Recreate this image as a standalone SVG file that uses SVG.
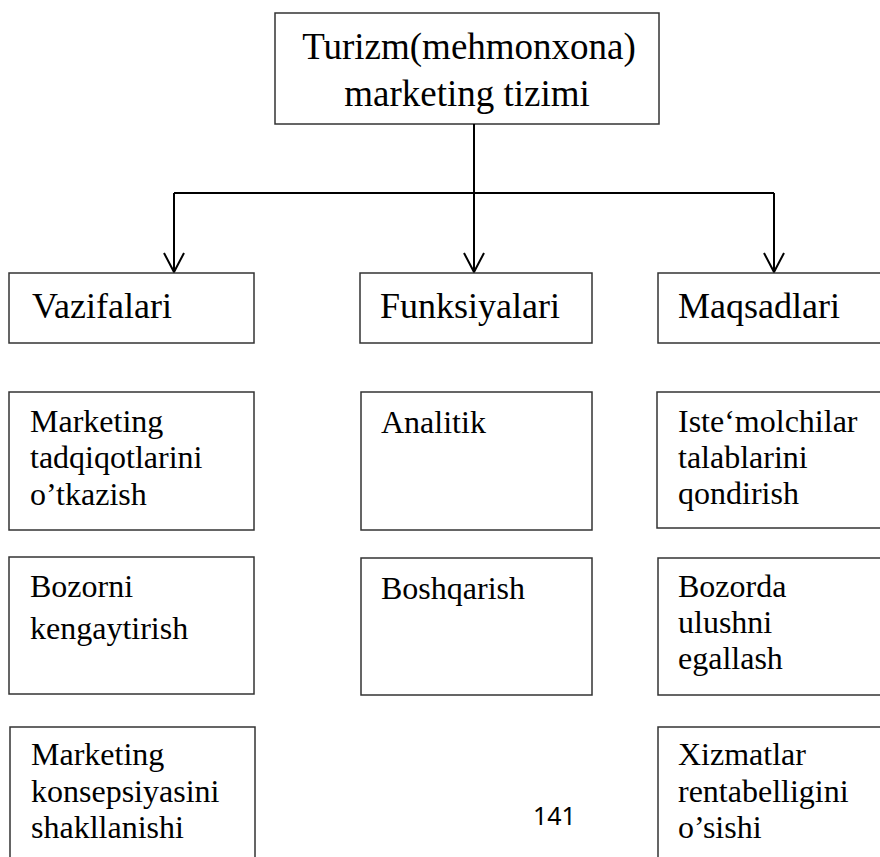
<svg xmlns="http://www.w3.org/2000/svg" width="880" height="857" viewBox="0 0 880 857">
  <style>
    .box { fill: #ffffff; stroke: #333333; stroke-width: 1.5; }
    .link { fill: none; stroke: #000000; stroke-width: 2; }
    .head { fill: none; stroke: #000000; stroke-width: 2; stroke-linejoin: miter; }
    .t36 { font-family: "Liberation Serif", "Times New Roman", serif; font-size: 36px; fill: #000000; }
    .t37 { font-family: "Liberation Serif", "Times New Roman", serif; font-size: 37px; fill: #000000; }
    .t32 { font-family: "Liberation Serif", "Times New Roman", serif; font-size: 32px; fill: #000000; }
    .pg { font-family: "Noto Sans", "Open Sans", sans-serif; font-size: 25px; fill: #000000; }
  </style>
  <rect width="880" height="857" fill="#ffffff"/>

  <!-- root -->
  <g id="root">
    <rect class="box" x="275" y="13" width="384" height="111"/>
    <text class="t37" x="469" y="59" text-anchor="middle">Turizm(mehmonxona)</text>
    <text class="t37" x="467" y="106" text-anchor="middle">marketing tizimi</text>
  </g>

  <!-- connectors -->
  <g id="connectors">
    <path class="link" d="M474 124 V272"/>
    <path class="link" d="M174 193 H774"/>
    <path class="link" d="M174 193 V272"/>
    <path class="link" d="M774 193 V272"/>
    <path class="head" d="M164 253 L174 272 L184 253"/>
    <path class="head" d="M464 253 L474 272 L484 253"/>
    <path class="head" d="M764 253 L774 272 L784 253"/>
  </g>

  <!-- second level -->
  <g id="vazifalari">
    <rect class="box" x="9" y="273" width="245" height="70"/>
    <text class="t36" x="32" y="318">Vazifalari</text>
  </g>
  <g id="funksiyalari">
    <rect class="box" x="360" y="273" width="232" height="70"/>
    <text class="t36" x="380" y="318">Funksiyalari</text>
  </g>
  <g id="maqsadlari">
    <rect class="box" x="658" y="273" width="240" height="70"/>
    <text class="t36" x="678" y="318">Maqsadlari</text>
  </g>

  <!-- Vazifalari column -->
  <g id="v1">
    <rect class="box" x="9" y="392" width="245" height="138"/>
    <text class="t32" x="30" y="432">Marketing</text>
    <text class="t32" x="30" y="468">tadqiqotlarini</text>
    <text class="t32" x="30" y="505">o’tkazish</text>
  </g>
  <g id="v2">
    <rect class="box" x="9" y="557" width="245" height="137"/>
    <text class="t32" x="30" y="597">Bozorni</text>
    <text class="t32" x="30" y="639">kengaytirish</text>
  </g>
  <g id="v3">
    <rect class="box" x="10" y="727" width="245" height="145"/>
    <text class="t32" x="31" y="765">Marketing</text>
    <text class="t32" x="31" y="802">konsepsiyasini</text>
    <text class="t32" x="31" y="838">shakllanishi</text>
  </g>

  <!-- Funksiyalari column -->
  <g id="f1">
    <rect class="box" x="361" y="392" width="231" height="138"/>
    <text class="t32" x="381" y="433">Analitik</text>
  </g>
  <g id="f2">
    <rect class="box" x="361" y="558" width="231" height="137"/>
    <text class="t32" x="381" y="599">Boshqarish</text>
  </g>

  <!-- Maqsadlari column -->
  <g id="m1">
    <rect class="box" x="657" y="392" width="240" height="136"/>
    <text class="t32" x="678" y="432">Iste‘molchilar</text>
    <text class="t32" x="678" y="468">talablarini</text>
    <text class="t32" x="678" y="504">qondirish</text>
  </g>
  <g id="m2">
    <rect class="box" x="658" y="558" width="240" height="137"/>
    <text class="t32" x="678" y="597">Bozorda</text>
    <text class="t32" x="678" y="633">ulushni</text>
    <text class="t32" x="678" y="669">egallash</text>
  </g>
  <g id="m3">
    <rect class="box" x="658" y="727" width="240" height="145"/>
    <text class="t32" x="678" y="765">Xizmatlar</text>
    <text class="t32" x="678" y="802">rentabelligini</text>
    <text class="t32" x="678" y="838">o’sishi</text>
  </g>

  <!-- page number -->
  <text class="pg" x="533" y="825">141</text>
</svg>
